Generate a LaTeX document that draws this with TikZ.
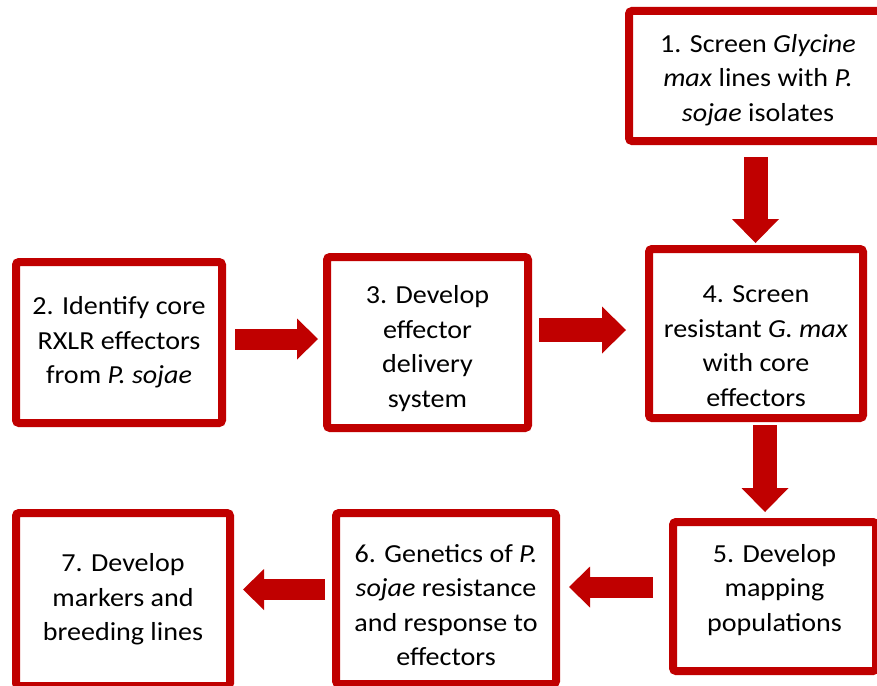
\documentclass[tikz,border=0pt]{standalone}
\usepackage{fontspec}
\setmainfont{Carlito}[FakeStretch=1.08]
\usepackage{xcolor}
\usetikzlibrary{arrows.meta}
\definecolor{boxred}{RGB}{192,0,0}

\begin{document}
\begin{tikzpicture}[x=1pt, y=-1pt,
	box/.style={draw=boxred, line width=8pt, fill=white, rounded corners=3pt, inner sep=0pt},
	txt/.style={align=center, font=\fontsize{26}{34.5}\selectfont, inner sep=0pt},
	bigarr/.style={boxred, line width=24pt, -{Triangle[width=47pt, length=24pt, line width=0pt]}},
	smallarr/.style={boxred, line width=21pt, -{Triangle[width=41pt, length=21pt, line width=0pt]}},
	]
	\useasboundingbox (0,0) rectangle (877,685);
	% boxes
	\node[box, minimum width=258pt, minimum height=130pt] (b1) at (758,76) {};
	\node[box, minimum width=206pt, minimum height=161pt] (b2) at (119,342.5) {};
	\node[box, minimum width=201pt, minimum height=171pt] (b3) at (427.5,342.5) {};
	\node[box, minimum width=214pt, minimum height=169pt] (b4) at (756,333.5) {};
	\node[box, minimum width=203pt, minimum height=149pt] (b5) at (774.5,596.5) {};
	\node[box, minimum width=220pt, minimum height=171pt] (b6) at (446,598.5) {};
	\node[box, minimum width=214pt, minimum height=173pt] (b7) at (123,599.5) {};
	% texts
	\node[txt] (t1) at ([yshift=-4pt]b1.center) {1. Screen \textit{Glycine}\\\textit{max} lines with \textit{P.}\\\textit{sojae} isolates};
	\node[txt] (t2) at (b2.center) {2. Identify core\\RXLR effectors\\from \textit{P. sojae}};
	\node[txt] (t3) at ([yshift=-6pt]b3.center) {3. Develop\\effector\\delivery\\system};
	\node[txt] (t4) at ([yshift=-12.5pt]b4.center) {4. Screen\\resistant \textit{G. max}\\with core\\effectors};
	\node[txt] (t5) at ([yshift=6.5pt]b5.center) {5. Develop\\mapping\\populations};
	\node[txt] (t6) at ([yshift=-6.5pt]b6.center) {6. Genetics of \textit{P.}\\\textit{sojae} resistance\\and response to\\effectors};
	\node[txt] (t7) at (b7.center) {7. Develop\\markers and\\breeding lines};
	% arrows
	\draw[bigarr] ([shift={(-2.5,12)}]b1.south) -- ([shift={(-0.5,-2)}]b4.north);
	\draw[smallarr] ([shift={(9,-3.5)}]b2.east) -- ([shift={(-5,-3.5)}]b3.west);
	\draw[bigarr] ([shift={(7,-12.5)}]b3.east) -- ([shift={(-19,-3.5)}]b4.west);
	\draw[bigarr] ([shift={(9,3)}]b4.south) -- ([shift={(-9.5,-6)}]b5.north);
	\draw[smallarr] ([shift={(-16,-9.5)}]b5.west) -- ([shift={(9,-11.5)}]b6.east);
	\draw[smallarr] ([shift={(-7,-9)}]b6.west) -- ([shift={(9,-10)}]b7.east);
\end{tikzpicture}
\end{document}
